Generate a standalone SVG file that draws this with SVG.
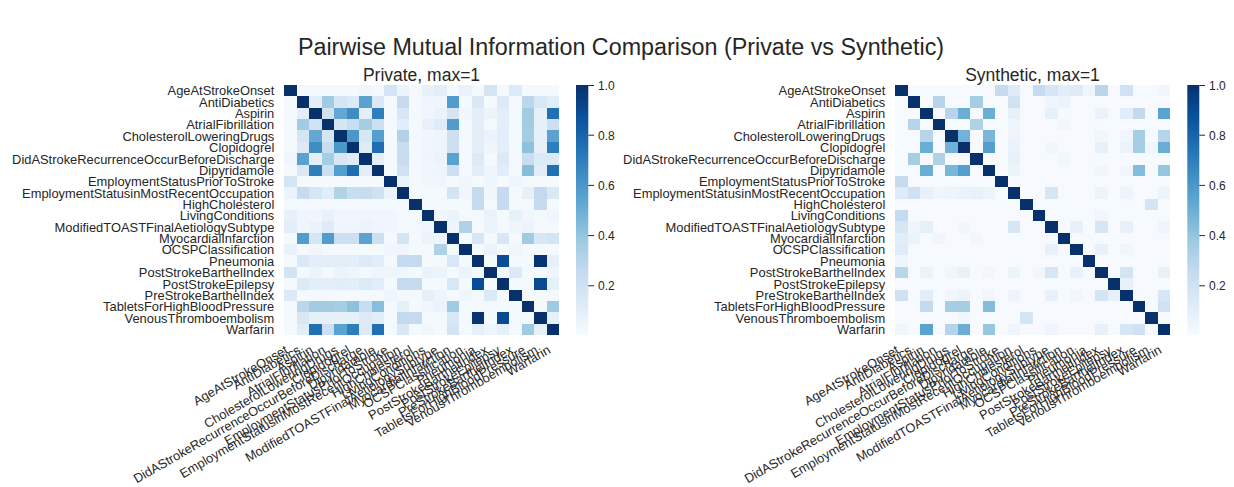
<svg xmlns="http://www.w3.org/2000/svg" width="1234" height="487" viewBox="0 0 1234 487">
<style>
  text { font-family: "Liberation Sans", Arial, sans-serif; fill: #262626; }
  .tick { font-size: 12.9px; }
  .cb { font-size: 12px; }
  .end { text-anchor: end; }
  .sub { font-size: 17.5px; text-anchor: middle; }
  .main { font-size: 23.3px; text-anchor: middle; }
  .cbtick { stroke: #262626; stroke-width: 1; }
  .grid { shape-rendering: crispEdges; }
</style>
<defs>
  <rect id="k" width="1" height="1"/>
  <linearGradient id="blues" x1="0" y1="1" x2="0" y2="0">
    <stop offset="0" stop-color="#f7fbff"/>
    <stop offset="0.125" stop-color="#deebf7"/>
    <stop offset="0.25" stop-color="#c6dbef"/>
    <stop offset="0.375" stop-color="#9ecae1"/>
    <stop offset="0.5" stop-color="#6baed6"/>
    <stop offset="0.625" stop-color="#4292c6"/>
    <stop offset="0.75" stop-color="#2171b5"/>
    <stop offset="0.875" stop-color="#08519c"/>
    <stop offset="1" stop-color="#08306b"/>
  </linearGradient>
</defs>
<rect width="1234" height="487" fill="#ffffff"/>

<text class="main" x="621" y="55">Pairwise Mutual Information Comparison (Private vs Synthetic)</text>

<!-- Private heatmap -->
<g id="private">
  <text class="sub" x="421.5" y="81">Private, max=1</text>
  <g class="grid" transform="translate(284 85) scale(12.5 11.363636)">
    <rect width="22" height="22" fill="#f4f9fe"/>
    <use href="#k" x="6" y="0" fill="#f0f6fc"/><use href="#k" x="0" y="6" fill="#f0f6fc"/>
    <use href="#k" x="8" y="0" fill="#d4e4f4"/><use href="#k" x="0" y="8" fill="#d4e4f4"/>
    <use href="#k" x="9" y="0" fill="#ebf3fb"/><use href="#k" x="0" y="9" fill="#ebf3fb"/>
    <use href="#k" x="11" y="0" fill="#e8f1fa"/><use href="#k" x="0" y="11" fill="#e8f1fa"/>
    <use href="#k" x="12" y="0" fill="#e3eef9"/><use href="#k" x="0" y="12" fill="#e3eef9"/>
    <use href="#k" x="14" y="0" fill="#e9f2fa"/><use href="#k" x="0" y="14" fill="#e9f2fa"/>
    <use href="#k" x="16" y="0" fill="#d3e4f3"/><use href="#k" x="0" y="16" fill="#d3e4f3"/>
    <use href="#k" x="18" y="0" fill="#dce9f6"/><use href="#k" x="0" y="18" fill="#dce9f6"/>

    <use href="#k" x="2" y="1" fill="#e3eef8"/><use href="#k" x="1" y="2" fill="#e3eef8"/>
    <use href="#k" x="3" y="1" fill="#a0cbe2"/><use href="#k" x="1" y="3" fill="#a0cbe2"/>
    <use href="#k" x="4" y="1" fill="#d5e5f4"/><use href="#k" x="1" y="4" fill="#d5e5f4"/>
    <use href="#k" x="5" y="1" fill="#dce9f6"/><use href="#k" x="1" y="5" fill="#dce9f6"/>
    <use href="#k" x="6" y="1" fill="#5aa2cf"/><use href="#k" x="1" y="6" fill="#5aa2cf"/>
    <use href="#k" x="7" y="1" fill="#dae8f5"/><use href="#k" x="1" y="7" fill="#dae8f5"/>
    <use href="#k" x="9" y="1" fill="#c6dbef"/><use href="#k" x="1" y="9" fill="#c6dbef"/>
    <use href="#k" x="11" y="1" fill="#eef5fc"/><use href="#k" x="1" y="11" fill="#eef5fc"/>
    <use href="#k" x="12" y="1" fill="#eef5fc"/><use href="#k" x="1" y="12" fill="#eef5fc"/>
    <use href="#k" x="13" y="1" fill="#519ccc"/><use href="#k" x="1" y="13" fill="#519ccc"/>
    <use href="#k" x="15" y="1" fill="#dae8f5"/><use href="#k" x="1" y="15" fill="#dae8f5"/>
    <use href="#k" x="17" y="1" fill="#dce9f6"/><use href="#k" x="1" y="17" fill="#dce9f6"/>
    <use href="#k" x="19" y="1" fill="#bcd7eb"/><use href="#k" x="1" y="19" fill="#bcd7eb"/>
    <use href="#k" x="20" y="1" fill="#d8e7f5"/><use href="#k" x="1" y="20" fill="#d8e7f5"/>
    <use href="#k" x="21" y="1" fill="#e1edf8"/><use href="#k" x="1" y="21" fill="#e1edf8"/>

    <use href="#k" x="3" y="2" fill="#d0e1f2"/><use href="#k" x="2" y="3" fill="#d0e1f2"/>
    <use href="#k" x="4" y="2" fill="#63a8d3"/><use href="#k" x="2" y="4" fill="#63a8d3"/>
    <use href="#k" x="5" y="2" fill="#3e8ec4"/><use href="#k" x="2" y="5" fill="#3e8ec4"/>
    <use href="#k" x="6" y="2" fill="#e5eff9"/><use href="#k" x="2" y="6" fill="#e5eff9"/>
    <use href="#k" x="7" y="2" fill="#2f7fbc"/><use href="#k" x="2" y="7" fill="#2f7fbc"/>
    <use href="#k" x="9" y="2" fill="#d6e6f4"/><use href="#k" x="2" y="9" fill="#d6e6f4"/>
    <use href="#k" x="11" y="2" fill="#f0f6fc"/><use href="#k" x="2" y="11" fill="#f0f6fc"/>
    <use href="#k" x="12" y="2" fill="#eaf2fb"/><use href="#k" x="2" y="12" fill="#eaf2fb"/>
    <use href="#k" x="13" y="2" fill="#d5e5f4"/><use href="#k" x="2" y="13" fill="#d5e5f4"/>
    <use href="#k" x="14" y="2" fill="#f0f6fc"/><use href="#k" x="2" y="14" fill="#f0f6fc"/>
    <use href="#k" x="15" y="2" fill="#e3eef9"/><use href="#k" x="2" y="15" fill="#e3eef9"/>
    <use href="#k" x="16" y="2" fill="#ebf3fb"/><use href="#k" x="2" y="16" fill="#ebf3fb"/>
    <use href="#k" x="17" y="2" fill="#e3eef9"/><use href="#k" x="2" y="17" fill="#e3eef9"/>
    <use href="#k" x="19" y="2" fill="#a3cce3"/><use href="#k" x="2" y="19" fill="#a3cce3"/>
    <use href="#k" x="20" y="2" fill="#e6f0f9"/><use href="#k" x="2" y="20" fill="#e6f0f9"/>
    <use href="#k" x="21" y="2" fill="#2070b4"/><use href="#k" x="2" y="21" fill="#2070b4"/>

    <use href="#k" x="4" y="3" fill="#d5e5f4"/><use href="#k" x="3" y="4" fill="#d5e5f4"/>
    <use href="#k" x="5" y="3" fill="#c9ddf0"/><use href="#k" x="3" y="5" fill="#c9ddf0"/>
    <use href="#k" x="6" y="3" fill="#a5cde3"/><use href="#k" x="3" y="6" fill="#a5cde3"/>
    <use href="#k" x="7" y="3" fill="#cde0f1"/><use href="#k" x="3" y="7" fill="#cde0f1"/>
    <use href="#k" x="9" y="3" fill="#e1edf8"/><use href="#k" x="3" y="9" fill="#e1edf8"/>
    <use href="#k" x="11" y="3" fill="#e8f1fa"/><use href="#k" x="3" y="11" fill="#e8f1fa"/>
    <use href="#k" x="12" y="3" fill="#dfebf7"/><use href="#k" x="3" y="12" fill="#dfebf7"/>
    <use href="#k" x="13" y="3" fill="#519ccc"/><use href="#k" x="3" y="13" fill="#519ccc"/>
    <use href="#k" x="15" y="3" fill="#e3eef9"/><use href="#k" x="3" y="15" fill="#e3eef9"/>
    <use href="#k" x="17" y="3" fill="#e3eef9"/><use href="#k" x="3" y="17" fill="#e3eef9"/>
    <use href="#k" x="19" y="3" fill="#a3cce3"/><use href="#k" x="3" y="19" fill="#a3cce3"/>
    <use href="#k" x="20" y="3" fill="#e6f0f9"/><use href="#k" x="3" y="20" fill="#e6f0f9"/>
    <use href="#k" x="21" y="3" fill="#cde0f1"/><use href="#k" x="3" y="21" fill="#cde0f1"/>

    <use href="#k" x="5" y="4" fill="#4a98c9"/><use href="#k" x="4" y="5" fill="#4a98c9"/>
    <use href="#k" x="6" y="4" fill="#d8e7f5"/><use href="#k" x="4" y="6" fill="#d8e7f5"/>
    <use href="#k" x="7" y="4" fill="#549fcd"/><use href="#k" x="4" y="7" fill="#549fcd"/>
    <use href="#k" x="9" y="4" fill="#b2d2e8"/><use href="#k" x="4" y="9" fill="#b2d2e8"/>
    <use href="#k" x="11" y="4" fill="#f0f6fc"/><use href="#k" x="4" y="11" fill="#f0f6fc"/>
    <use href="#k" x="12" y="4" fill="#eef5fc"/><use href="#k" x="4" y="12" fill="#eef5fc"/>
    <use href="#k" x="13" y="4" fill="#cde0f1"/><use href="#k" x="4" y="13" fill="#cde0f1"/>
    <use href="#k" x="15" y="4" fill="#e3eef9"/><use href="#k" x="4" y="15" fill="#e3eef9"/>
    <use href="#k" x="16" y="4" fill="#ecf4fb"/><use href="#k" x="4" y="16" fill="#ecf4fb"/>
    <use href="#k" x="17" y="4" fill="#e1edf8"/><use href="#k" x="4" y="17" fill="#e1edf8"/>
    <use href="#k" x="19" y="4" fill="#a5cde3"/><use href="#k" x="4" y="19" fill="#a5cde3"/>
    <use href="#k" x="20" y="4" fill="#e6f0f9"/><use href="#k" x="4" y="20" fill="#e6f0f9"/>
    <use href="#k" x="21" y="4" fill="#5aa2cf"/><use href="#k" x="4" y="21" fill="#5aa2cf"/>

    <use href="#k" x="6" y="5" fill="#dfebf7"/><use href="#k" x="5" y="6" fill="#dfebf7"/>
    <use href="#k" x="7" y="5" fill="#1f6eb3"/><use href="#k" x="5" y="7" fill="#1f6eb3"/>
    <use href="#k" x="9" y="5" fill="#c9ddf0"/><use href="#k" x="5" y="9" fill="#c9ddf0"/>
    <use href="#k" x="11" y="5" fill="#f0f6fc"/><use href="#k" x="5" y="11" fill="#f0f6fc"/>
    <use href="#k" x="12" y="5" fill="#eef5fc"/><use href="#k" x="5" y="12" fill="#eef5fc"/>
    <use href="#k" x="13" y="5" fill="#cde0f1"/><use href="#k" x="5" y="13" fill="#cde0f1"/>
    <use href="#k" x="15" y="5" fill="#e3eef9"/><use href="#k" x="5" y="15" fill="#e3eef9"/>
    <use href="#k" x="16" y="5" fill="#eef5fc"/><use href="#k" x="5" y="16" fill="#eef5fc"/>
    <use href="#k" x="17" y="5" fill="#e3eef9"/><use href="#k" x="5" y="17" fill="#e3eef9"/>
    <use href="#k" x="19" y="5" fill="#8dc1dd"/><use href="#k" x="5" y="19" fill="#8dc1dd"/>
    <use href="#k" x="20" y="5" fill="#e6f0f9"/><use href="#k" x="5" y="20" fill="#e6f0f9"/>
    <use href="#k" x="21" y="5" fill="#2e7ebc"/><use href="#k" x="5" y="21" fill="#2e7ebc"/>

    <use href="#k" x="7" y="6" fill="#e3eef9"/><use href="#k" x="6" y="7" fill="#e3eef9"/>
    <use href="#k" x="9" y="6" fill="#c8dcf0"/><use href="#k" x="6" y="9" fill="#c8dcf0"/>
    <use href="#k" x="11" y="6" fill="#eef5fc"/><use href="#k" x="6" y="11" fill="#eef5fc"/>
    <use href="#k" x="12" y="6" fill="#ebf3fb"/><use href="#k" x="6" y="12" fill="#ebf3fb"/>
    <use href="#k" x="13" y="6" fill="#5aa2cf"/><use href="#k" x="6" y="13" fill="#5aa2cf"/>
    <use href="#k" x="15" y="6" fill="#dce9f6"/><use href="#k" x="6" y="15" fill="#dce9f6"/>
    <use href="#k" x="17" y="6" fill="#dce9f6"/><use href="#k" x="6" y="17" fill="#dce9f6"/>
    <use href="#k" x="19" y="6" fill="#c9ddf0"/><use href="#k" x="6" y="19" fill="#c9ddf0"/>
    <use href="#k" x="20" y="6" fill="#dce9f6"/><use href="#k" x="6" y="20" fill="#dce9f6"/>
    <use href="#k" x="21" y="6" fill="#dce9f6"/><use href="#k" x="6" y="21" fill="#dce9f6"/>

    <use href="#k" x="9" y="7" fill="#d0e1f2"/><use href="#k" x="7" y="9" fill="#d0e1f2"/>
    <use href="#k" x="11" y="7" fill="#f0f6fc"/><use href="#k" x="7" y="11" fill="#f0f6fc"/>
    <use href="#k" x="12" y="7" fill="#eef5fc"/><use href="#k" x="7" y="12" fill="#eef5fc"/>
    <use href="#k" x="13" y="7" fill="#cde0f1"/><use href="#k" x="7" y="13" fill="#cde0f1"/>
    <use href="#k" x="15" y="7" fill="#e1edf8"/><use href="#k" x="7" y="15" fill="#e1edf8"/>
    <use href="#k" x="16" y="7" fill="#eef5fc"/><use href="#k" x="7" y="16" fill="#eef5fc"/>
    <use href="#k" x="17" y="7" fill="#e1edf8"/><use href="#k" x="7" y="17" fill="#e1edf8"/>
    <use href="#k" x="19" y="7" fill="#88bedc"/><use href="#k" x="7" y="19" fill="#88bedc"/>
    <use href="#k" x="20" y="7" fill="#e1edf8"/><use href="#k" x="7" y="20" fill="#e1edf8"/>
    <use href="#k" x="21" y="7" fill="#2070b4"/><use href="#k" x="7" y="21" fill="#2070b4"/>

    <use href="#k" x="9" y="8" fill="#ebf3fb"/><use href="#k" x="8" y="9" fill="#ebf3fb"/>
    <use href="#k" x="11" y="8" fill="#f0f6fc"/><use href="#k" x="8" y="11" fill="#f0f6fc"/>
    <use href="#k" x="12" y="8" fill="#f0f6fc"/><use href="#k" x="8" y="12" fill="#f0f6fc"/>
    <use href="#k" x="14" y="8" fill="#f0f6fc"/><use href="#k" x="8" y="14" fill="#f0f6fc"/>
    <use href="#k" x="16" y="8" fill="#eef5fc"/><use href="#k" x="8" y="16" fill="#eef5fc"/>
    <use href="#k" x="18" y="8" fill="#eef5fc"/><use href="#k" x="8" y="18" fill="#eef5fc"/>

    <use href="#k" x="13" y="9" fill="#d3e4f3"/><use href="#k" x="9" y="13" fill="#d3e4f3"/>
    <use href="#k" x="14" y="9" fill="#f0f6fc"/><use href="#k" x="9" y="14" fill="#f0f6fc"/>
    <use href="#k" x="15" y="9" fill="#c6dbef"/><use href="#k" x="9" y="15" fill="#c6dbef"/>
    <use href="#k" x="16" y="9" fill="#f0f6fc"/><use href="#k" x="9" y="16" fill="#f0f6fc"/>
    <use href="#k" x="17" y="9" fill="#c6dbef"/><use href="#k" x="9" y="17" fill="#c6dbef"/>
    <use href="#k" x="19" y="9" fill="#e6f0f9"/><use href="#k" x="9" y="19" fill="#e6f0f9"/>
    <use href="#k" x="20" y="9" fill="#c2d9ee"/><use href="#k" x="9" y="20" fill="#c2d9ee"/>
    <use href="#k" x="21" y="9" fill="#dae8f5"/><use href="#k" x="9" y="21" fill="#dae8f5"/>

    <use href="#k" x="15" y="10" fill="#c6dbef"/><use href="#k" x="10" y="15" fill="#c6dbef"/>
    <use href="#k" x="17" y="10" fill="#c6dbef"/><use href="#k" x="10" y="17" fill="#c6dbef"/>
    <use href="#k" x="20" y="10" fill="#c6dbef"/><use href="#k" x="10" y="20" fill="#c6dbef"/>

    <use href="#k" x="12" y="11" fill="#f0f6fc"/><use href="#k" x="11" y="12" fill="#f0f6fc"/>
    <use href="#k" x="13" y="11" fill="#ebf3fb"/><use href="#k" x="11" y="13" fill="#ebf3fb"/>
    <use href="#k" x="16" y="11" fill="#eaf2fb"/><use href="#k" x="11" y="16" fill="#eaf2fb"/>
    <use href="#k" x="18" y="11" fill="#e6f0f9"/><use href="#k" x="11" y="18" fill="#e6f0f9"/>
    <use href="#k" x="19" y="11" fill="#f0f6fc"/><use href="#k" x="11" y="19" fill="#f0f6fc"/>
    <use href="#k" x="21" y="11" fill="#f0f6fc"/><use href="#k" x="11" y="21" fill="#f0f6fc"/>

    <use href="#k" x="13" y="12" fill="#eef5fc"/><use href="#k" x="12" y="13" fill="#eef5fc"/>
    <use href="#k" x="14" y="12" fill="#b0d2e7"/><use href="#k" x="12" y="14" fill="#b0d2e7"/>
    <use href="#k" x="16" y="12" fill="#ebf3fb"/><use href="#k" x="12" y="16" fill="#ebf3fb"/>
    <use href="#k" x="18" y="12" fill="#eef5fc"/><use href="#k" x="12" y="18" fill="#eef5fc"/>
    <use href="#k" x="19" y="12" fill="#ebf3fb"/><use href="#k" x="12" y="19" fill="#ebf3fb"/>

    <use href="#k" x="15" y="13" fill="#d8e7f5"/><use href="#k" x="13" y="15" fill="#d8e7f5"/>
    <use href="#k" x="17" y="13" fill="#d8e7f5"/><use href="#k" x="13" y="17" fill="#d8e7f5"/>
    <use href="#k" x="19" y="13" fill="#a0cbe2"/><use href="#k" x="13" y="19" fill="#a0cbe2"/>
    <use href="#k" x="20" y="13" fill="#d8e7f5"/><use href="#k" x="13" y="20" fill="#d8e7f5"/>
    <use href="#k" x="21" y="13" fill="#d3e4f3"/><use href="#k" x="13" y="21" fill="#d3e4f3"/>

    <use href="#k" x="16" y="14" fill="#ebf3fb"/><use href="#k" x="14" y="16" fill="#ebf3fb"/>
    <use href="#k" x="18" y="14" fill="#f0f6fc"/><use href="#k" x="14" y="18" fill="#f0f6fc"/>

    <use href="#k" x="17" y="15" fill="#084d96"/><use href="#k" x="15" y="17" fill="#084d96"/>
    <use href="#k" x="20" y="15" fill="#083471"/><use href="#k" x="15" y="20" fill="#083471"/>
    <use href="#k" x="21" y="15" fill="#e6f0f9"/><use href="#k" x="15" y="21" fill="#e6f0f9"/>

    <use href="#k" x="18" y="16" fill="#dce9f6"/><use href="#k" x="16" y="18" fill="#dce9f6"/>
    <use href="#k" x="21" y="16" fill="#eef5fc"/><use href="#k" x="16" y="21" fill="#eef5fc"/>

    <use href="#k" x="20" y="17" fill="#0a4a90"/><use href="#k" x="17" y="20" fill="#0a4a90"/>
    <use href="#k" x="21" y="17" fill="#e6f0f9"/><use href="#k" x="17" y="21" fill="#e6f0f9"/>

    <use href="#k" x="21" y="19" fill="#a0cbe2"/><use href="#k" x="19" y="21" fill="#a0cbe2"/>
    <use href="#k" x="21" y="20" fill="#e6f0f9"/><use href="#k" x="20" y="21" fill="#e6f0f9"/>

    <g fill="#08306b">
      <use href="#k" x="0" y="0"/><use href="#k" x="1" y="1"/><use href="#k" x="2" y="2"/><use href="#k" x="3" y="3"/>
      <use href="#k" x="4" y="4"/><use href="#k" x="5" y="5"/><use href="#k" x="6" y="6"/><use href="#k" x="7" y="7"/>
      <use href="#k" x="8" y="8"/><use href="#k" x="9" y="9"/><use href="#k" x="10" y="10"/><use href="#k" x="11" y="11"/>
      <use href="#k" x="12" y="12"/><use href="#k" x="13" y="13"/><use href="#k" x="14" y="14"/><use href="#k" x="15" y="15"/>
      <use href="#k" x="16" y="16"/><use href="#k" x="17" y="17"/><use href="#k" x="18" y="18"/><use href="#k" x="19" y="19"/>
      <use href="#k" x="20" y="20"/><use href="#k" x="21" y="21"/>
    </g>
  </g>

  <g class="tick end">
    <text x="274.3" y="95.3">AgeAtStrokeOnset</text>
    <text x="274.3" y="106.7">AntiDiabetics</text>
    <text x="274.3" y="118.0">Aspirin</text>
    <text x="274.3" y="129.4">AtrialFibrillation</text>
    <text x="274.3" y="140.7">CholesterolLoweringDrugs</text>
    <text x="274.3" y="152.1">Clopidogrel</text>
    <text x="274.3" y="163.5">DidAStrokeRecurrenceOccurBeforeDischarge</text>
    <text x="274.3" y="174.8">Dipyridamole</text>
    <text x="274.3" y="186.2">EmploymentStatusPriorToStroke</text>
    <text x="274.3" y="197.6">EmploymentStatusinMostRecentOccupation</text>
    <text x="274.3" y="208.9">HighCholesterol</text>
    <text x="274.3" y="220.3">LivingConditions</text>
    <text x="274.3" y="231.7">ModifiedTOASTFinalAetiologySubtype</text>
    <text x="274.3" y="243.0">MyocardialInfarction</text>
    <text x="274.3" y="254.4">OCSPClassification</text>
    <text x="274.3" y="265.7">Pneumonia</text>
    <text x="274.3" y="277.1">PostStrokeBarthelIndex</text>
    <text x="274.3" y="288.5">PostStrokeEpilepsy</text>
    <text x="274.3" y="299.8">PreStrokeBarthelIndex</text>
    <text x="274.3" y="311.2">TabletsForHighBloodPressure</text>
    <text x="274.3" y="322.6">VenousThromboembolism</text>
    <text x="274.3" y="333.9">Warfarin</text>
  </g>

  <g class="tick end" transform="translate(288.85 352.5)">
    <text transform="translate(0 0) rotate(-30)">AgeAtStrokeOnset</text>
    <text transform="translate(12.5 0) rotate(-30)">AntiDiabetics</text>
    <text transform="translate(25 0) rotate(-30)">Aspirin</text>
    <text transform="translate(37.5 0) rotate(-30)">AtrialFibrillation</text>
    <text transform="translate(50 0) rotate(-30)">CholesterolLoweringDrugs</text>
    <text transform="translate(62.5 0) rotate(-30)">Clopidogrel</text>
    <text transform="translate(75 0) rotate(-30)">DidAStrokeRecurrenceOccurBeforeDischarge</text>
    <text transform="translate(87.5 0) rotate(-30)">Dipyridamole</text>
    <text transform="translate(100 0) rotate(-30)">EmploymentStatusPriorToStroke</text>
    <text transform="translate(112.5 0) rotate(-30)">EmploymentStatusinMostRecentOccupation</text>
    <text transform="translate(125 0) rotate(-30)">HighCholesterol</text>
    <text transform="translate(137.5 0) rotate(-30)">LivingConditions</text>
    <text transform="translate(150 0) rotate(-30)">ModifiedTOASTFinalAetiologySubtype</text>
    <text transform="translate(162.5 0) rotate(-30)">MyocardialInfarction</text>
    <text transform="translate(175 0) rotate(-30)">OCSPClassification</text>
    <text transform="translate(187.5 0) rotate(-30)">Pneumonia</text>
    <text transform="translate(200 0) rotate(-30)">PostStrokeBarthelIndex</text>
    <text transform="translate(212.5 0) rotate(-30)">PostStrokeEpilepsy</text>
    <text transform="translate(225 0) rotate(-30)">PreStrokeBarthelIndex</text>
    <text transform="translate(237.5 0) rotate(-30)">TabletsForHighBloodPressure</text>
    <text transform="translate(250 0) rotate(-30)">VenousThromboembolism</text>
    <text transform="translate(262.5 0) rotate(-30)">Warfarin</text>
  </g>
</g>

<!-- Private colour bar -->
<g id="private-colorbar">
  <rect x="576" y="85" width="12.3" height="250" fill="url(#blues)"/>
  <path class="cbtick" d="M588.3 85.5H594M588.3 135.2H594M588.3 185.4H594M588.3 235.6H594M588.3 285.8H594"/>
  <g class="cb">
    <text x="598" y="89.8">1.0</text>
    <text x="598" y="139.5">0.8</text>
    <text x="598" y="189.7">0.6</text>
    <text x="598" y="239.9">0.4</text>
    <text x="598" y="290.1">0.2</text>
  </g>
</g>

<!-- Synthetic heatmap -->
<g id="synthetic">
  <text class="sub" x="1032.5" y="81">Synthetic, max=1</text>
  <g class="grid" transform="translate(895 85) scale(12.5 11.363636)">
    <rect width="22" height="22" fill="#f6fafe"/>
    <use href="#k" x="8" y="0" fill="#c6dbef"/><use href="#k" x="0" y="8" fill="#c6dbef"/>
    <use href="#k" x="9" y="0" fill="#dfebf7"/><use href="#k" x="0" y="9" fill="#dfebf7"/>
    <use href="#k" x="11" y="0" fill="#c6dbef"/><use href="#k" x="0" y="11" fill="#c6dbef"/>
    <use href="#k" x="12" y="0" fill="#d6e6f4"/><use href="#k" x="0" y="12" fill="#d6e6f4"/>
    <use href="#k" x="13" y="0" fill="#e1edf8"/><use href="#k" x="0" y="13" fill="#e1edf8"/>
    <use href="#k" x="14" y="0" fill="#dfebf7"/><use href="#k" x="0" y="14" fill="#dfebf7"/>
    <use href="#k" x="15" y="0" fill="#eef5fc"/><use href="#k" x="0" y="15" fill="#eef5fc"/>
    <use href="#k" x="16" y="0" fill="#b9d6ea"/><use href="#k" x="0" y="16" fill="#b9d6ea"/>
    <use href="#k" x="18" y="0" fill="#cfe1f2"/><use href="#k" x="0" y="18" fill="#cfe1f2"/>
    <use href="#k" x="21" y="0" fill="#f0f6fc"/><use href="#k" x="0" y="21" fill="#f0f6fc"/>

    <use href="#k" x="3" y="1" fill="#b7d4ea"/><use href="#k" x="1" y="3" fill="#b7d4ea"/>
    <use href="#k" x="6" y="1" fill="#a5cde3"/><use href="#k" x="1" y="6" fill="#a5cde3"/>
    <use href="#k" x="9" y="1" fill="#d0e1f2"/><use href="#k" x="1" y="9" fill="#d0e1f2"/>
    <use href="#k" x="12" y="1" fill="#eef5fc"/><use href="#k" x="1" y="12" fill="#eef5fc"/>
    <use href="#k" x="13" y="1" fill="#ecf4fb"/><use href="#k" x="1" y="13" fill="#ecf4fb"/>

    <use href="#k" x="4" y="2" fill="#b7d4ea"/><use href="#k" x="2" y="4" fill="#b7d4ea"/>
    <use href="#k" x="5" y="2" fill="#6aaed6"/><use href="#k" x="2" y="5" fill="#6aaed6"/>
    <use href="#k" x="7" y="2" fill="#6aaed6"/><use href="#k" x="2" y="7" fill="#6aaed6"/>
    <use href="#k" x="9" y="2" fill="#e8f1fa"/><use href="#k" x="2" y="9" fill="#e8f1fa"/>
    <use href="#k" x="12" y="2" fill="#e6f0f9"/><use href="#k" x="2" y="12" fill="#e6f0f9"/>
    <use href="#k" x="16" y="2" fill="#eaf2fb"/><use href="#k" x="2" y="16" fill="#eaf2fb"/>
    <use href="#k" x="18" y="2" fill="#e1edf8"/><use href="#k" x="2" y="18" fill="#e1edf8"/>
    <use href="#k" x="19" y="2" fill="#c2d9ee"/><use href="#k" x="2" y="19" fill="#c2d9ee"/>
    <use href="#k" x="21" y="2" fill="#5aa2cf"/><use href="#k" x="2" y="21" fill="#5aa2cf"/>

    <use href="#k" x="6" y="3" fill="#b0d2e7"/><use href="#k" x="3" y="6" fill="#b0d2e7"/>
    <use href="#k" x="9" y="3" fill="#eef5fc"/><use href="#k" x="3" y="9" fill="#eef5fc"/>
    <use href="#k" x="13" y="3" fill="#f0f6fc"/><use href="#k" x="3" y="13" fill="#f0f6fc"/>

    <use href="#k" x="5" y="4" fill="#72b2d8"/><use href="#k" x="4" y="5" fill="#72b2d8"/>
    <use href="#k" x="7" y="4" fill="#7ab6d9"/><use href="#k" x="4" y="7" fill="#7ab6d9"/>
    <use href="#k" x="9" y="4" fill="#edf4fc"/><use href="#k" x="4" y="9" fill="#edf4fc"/>
    <use href="#k" x="16" y="4" fill="#f0f6fc"/><use href="#k" x="4" y="16" fill="#f0f6fc"/>
    <use href="#k" x="18" y="4" fill="#f0f6fc"/><use href="#k" x="4" y="18" fill="#f0f6fc"/>
    <use href="#k" x="19" y="4" fill="#a5cde3"/><use href="#k" x="4" y="19" fill="#a5cde3"/>
    <use href="#k" x="21" y="4" fill="#b7d4ea"/><use href="#k" x="4" y="21" fill="#b7d4ea"/>

    <use href="#k" x="7" y="5" fill="#539ecd"/><use href="#k" x="5" y="7" fill="#539ecd"/>
    <use href="#k" x="9" y="5" fill="#eaf2fb"/><use href="#k" x="5" y="9" fill="#eaf2fb"/>
    <use href="#k" x="12" y="5" fill="#f0f6fc"/><use href="#k" x="5" y="12" fill="#f0f6fc"/>
    <use href="#k" x="16" y="5" fill="#e8f1fa"/><use href="#k" x="5" y="16" fill="#e8f1fa"/>
    <use href="#k" x="18" y="5" fill="#ecf4fb"/><use href="#k" x="5" y="18" fill="#ecf4fb"/>
    <use href="#k" x="19" y="5" fill="#a5cde3"/><use href="#k" x="5" y="19" fill="#a5cde3"/>
    <use href="#k" x="20" y="5" fill="#f0f6fc"/><use href="#k" x="5" y="20" fill="#f0f6fc"/>
    <use href="#k" x="21" y="5" fill="#6aaed6"/><use href="#k" x="5" y="21" fill="#6aaed6"/>

    <use href="#k" x="9" y="6" fill="#e8f1fa"/><use href="#k" x="6" y="9" fill="#e8f1fa"/>
    <use href="#k" x="13" y="6" fill="#f0f6fc"/><use href="#k" x="6" y="13" fill="#f0f6fc"/>

    <use href="#k" x="9" y="7" fill="#ecf4fb"/><use href="#k" x="7" y="9" fill="#ecf4fb"/>
    <use href="#k" x="16" y="7" fill="#f0f6fc"/><use href="#k" x="7" y="16" fill="#f0f6fc"/>
    <use href="#k" x="18" y="7" fill="#f0f6fc"/><use href="#k" x="7" y="18" fill="#f0f6fc"/>
    <use href="#k" x="19" y="7" fill="#84bcdb"/><use href="#k" x="7" y="19" fill="#84bcdb"/>
    <use href="#k" x="21" y="7" fill="#97c6df"/><use href="#k" x="7" y="21" fill="#97c6df"/>

    <use href="#k" x="12" y="9" fill="#d6e6f4"/><use href="#k" x="9" y="12" fill="#d6e6f4"/>
    <use href="#k" x="16" y="9" fill="#ecf4fb"/><use href="#k" x="9" y="16" fill="#ecf4fb"/>
    <use href="#k" x="18" y="9" fill="#edf4fc"/><use href="#k" x="9" y="18" fill="#edf4fc"/>
    <use href="#k" x="21" y="9" fill="#edf4fc"/><use href="#k" x="9" y="21" fill="#edf4fc"/>

    <use href="#k" x="20" y="10" fill="#d3e4f3"/><use href="#k" x="10" y="20" fill="#d3e4f3"/>
    <use href="#k" x="16" y="11" fill="#f0f6fc"/><use href="#k" x="11" y="16" fill="#f0f6fc"/>

    <use href="#k" x="14" y="12" fill="#e8f1fa"/><use href="#k" x="12" y="14" fill="#e8f1fa"/>
    <use href="#k" x="16" y="12" fill="#d6e6f4"/><use href="#k" x="12" y="16" fill="#d6e6f4"/>
    <use href="#k" x="18" y="12" fill="#e8f1fa"/><use href="#k" x="12" y="18" fill="#e8f1fa"/>
    <use href="#k" x="21" y="12" fill="#eef5fc"/><use href="#k" x="12" y="21" fill="#eef5fc"/>

    <use href="#k" x="16" y="14" fill="#e8f1fa"/><use href="#k" x="14" y="16" fill="#e8f1fa"/>
    <use href="#k" x="18" y="14" fill="#f0f6fc"/><use href="#k" x="14" y="18" fill="#f0f6fc"/>

    <use href="#k" x="18" y="16" fill="#d3e4f3"/><use href="#k" x="16" y="18" fill="#d3e4f3"/>
    <use href="#k" x="21" y="16" fill="#e8f1fa"/><use href="#k" x="16" y="21" fill="#e8f1fa"/>
    <use href="#k" x="18" y="17" fill="#e8f1fa"/><use href="#k" x="17" y="18" fill="#e8f1fa"/>
    <use href="#k" x="21" y="18" fill="#d6e6f4"/><use href="#k" x="18" y="21" fill="#d6e6f4"/>
    <use href="#k" x="21" y="19" fill="#cfe1f2"/><use href="#k" x="19" y="21" fill="#cfe1f2"/>

    <g fill="#08306b">
      <use href="#k" x="0" y="0"/><use href="#k" x="1" y="1"/><use href="#k" x="2" y="2"/><use href="#k" x="3" y="3"/>
      <use href="#k" x="4" y="4"/><use href="#k" x="5" y="5"/><use href="#k" x="6" y="6"/><use href="#k" x="7" y="7"/>
      <use href="#k" x="8" y="8"/><use href="#k" x="9" y="9"/><use href="#k" x="10" y="10"/><use href="#k" x="11" y="11"/>
      <use href="#k" x="12" y="12"/><use href="#k" x="13" y="13"/><use href="#k" x="14" y="14"/><use href="#k" x="15" y="15"/>
      <use href="#k" x="16" y="16"/><use href="#k" x="17" y="17"/><use href="#k" x="18" y="18"/><use href="#k" x="19" y="19"/>
      <use href="#k" x="20" y="20"/><use href="#k" x="21" y="21"/>
    </g>
  </g>

  <g class="tick end">
    <text x="885.3" y="95.3">AgeAtStrokeOnset</text>
    <text x="885.3" y="106.7">AntiDiabetics</text>
    <text x="885.3" y="118.0">Aspirin</text>
    <text x="885.3" y="129.4">AtrialFibrillation</text>
    <text x="885.3" y="140.7">CholesterolLoweringDrugs</text>
    <text x="885.3" y="152.1">Clopidogrel</text>
    <text x="885.3" y="163.5">DidAStrokeRecurrenceOccurBeforeDischarge</text>
    <text x="885.3" y="174.8">Dipyridamole</text>
    <text x="885.3" y="186.2">EmploymentStatusPriorToStroke</text>
    <text x="885.3" y="197.6">EmploymentStatusinMostRecentOccupation</text>
    <text x="885.3" y="208.9">HighCholesterol</text>
    <text x="885.3" y="220.3">LivingConditions</text>
    <text x="885.3" y="231.7">ModifiedTOASTFinalAetiologySubtype</text>
    <text x="885.3" y="243.0">MyocardialInfarction</text>
    <text x="885.3" y="254.4">OCSPClassification</text>
    <text x="885.3" y="265.7">Pneumonia</text>
    <text x="885.3" y="277.1">PostStrokeBarthelIndex</text>
    <text x="885.3" y="288.5">PostStrokeEpilepsy</text>
    <text x="885.3" y="299.8">PreStrokeBarthelIndex</text>
    <text x="885.3" y="311.2">TabletsForHighBloodPressure</text>
    <text x="885.3" y="322.6">VenousThromboembolism</text>
    <text x="885.3" y="333.9">Warfarin</text>
  </g>

  <g class="tick end" transform="translate(899.85 352.5)">
    <text transform="translate(0 0) rotate(-30)">AgeAtStrokeOnset</text>
    <text transform="translate(12.5 0) rotate(-30)">AntiDiabetics</text>
    <text transform="translate(25 0) rotate(-30)">Aspirin</text>
    <text transform="translate(37.5 0) rotate(-30)">AtrialFibrillation</text>
    <text transform="translate(50 0) rotate(-30)">CholesterolLoweringDrugs</text>
    <text transform="translate(62.5 0) rotate(-30)">Clopidogrel</text>
    <text transform="translate(75 0) rotate(-30)">DidAStrokeRecurrenceOccurBeforeDischarge</text>
    <text transform="translate(87.5 0) rotate(-30)">Dipyridamole</text>
    <text transform="translate(100 0) rotate(-30)">EmploymentStatusPriorToStroke</text>
    <text transform="translate(112.5 0) rotate(-30)">EmploymentStatusinMostRecentOccupation</text>
    <text transform="translate(125 0) rotate(-30)">HighCholesterol</text>
    <text transform="translate(137.5 0) rotate(-30)">LivingConditions</text>
    <text transform="translate(150 0) rotate(-30)">ModifiedTOASTFinalAetiologySubtype</text>
    <text transform="translate(162.5 0) rotate(-30)">MyocardialInfarction</text>
    <text transform="translate(175 0) rotate(-30)">OCSPClassification</text>
    <text transform="translate(187.5 0) rotate(-30)">Pneumonia</text>
    <text transform="translate(200 0) rotate(-30)">PostStrokeBarthelIndex</text>
    <text transform="translate(212.5 0) rotate(-30)">PostStrokeEpilepsy</text>
    <text transform="translate(225 0) rotate(-30)">PreStrokeBarthelIndex</text>
    <text transform="translate(237.5 0) rotate(-30)">TabletsForHighBloodPressure</text>
    <text transform="translate(250 0) rotate(-30)">VenousThromboembolism</text>
    <text transform="translate(262.5 0) rotate(-30)">Warfarin</text>
  </g>
</g>

<!-- Synthetic colour bar -->
<g id="synthetic-colorbar">
  <rect x="1187.3" y="85" width="12" height="250" fill="url(#blues)"/>
  <path class="cbtick" d="M1199.3 85.5H1205M1199.3 135.2H1205M1199.3 185.4H1205M1199.3 235.6H1205M1199.3 285.8H1205"/>
  <g class="cb">
    <text x="1209" y="89.8">1.0</text>
    <text x="1209" y="139.5">0.8</text>
    <text x="1209" y="189.7">0.6</text>
    <text x="1209" y="239.9">0.4</text>
    <text x="1209" y="290.1">0.2</text>
  </g>
</g>
</svg>
